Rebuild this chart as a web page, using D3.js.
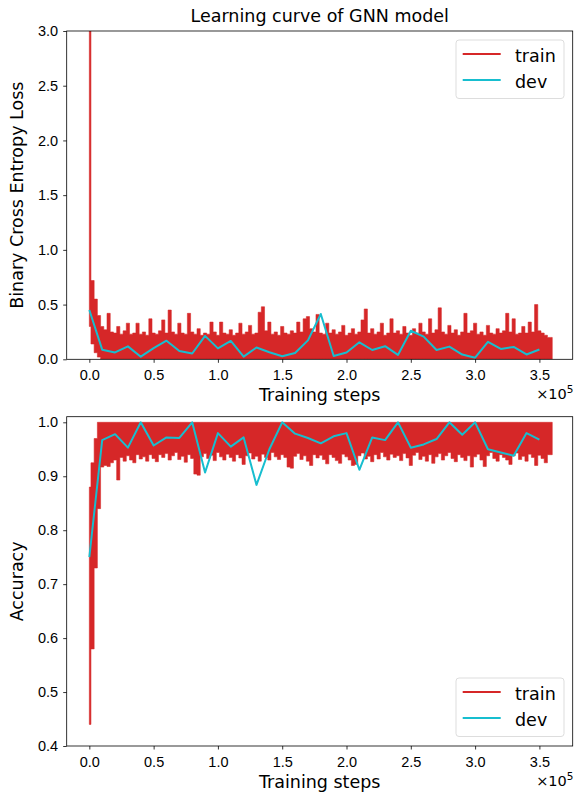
<!DOCTYPE html>
<meta charset="utf-8">
<style>
body { margin: 0; background: #fff; }
svg { background-color: #fff; font-family: "DejaVu Sans", sans-serif; }
.axis path, .axis line { stroke: #000; stroke-width: 0.8; }
.axis text { font-size: 14.5px; fill: #000; }
.label { font-size: 17.5px; fill: #000; }
.legend text { font-size: 17.5px; fill: #000; }
</style>
<svg width="574" height="799"></svg>
<script src="https://d3js.org/d3.v7.min.js"></script>
<script>

// dev set evaluated every 10k steps
var devSteps = [0, 10000, 20000, 30000, 40000, 50000, 60000, 70000, 80000, 90000,
  100000, 110000, 120000, 130000, 140000, 150000, 160000, 170000, 180000, 190000,
  200000, 210000, 220000, 230000, 240000, 250000, 260000, 270000, 280000, 290000,
  300000, 310000, 320000, 330000, 340000, 350000];
var devLoss = [0.45, 0.088, 0.063, 0.118, 0.024, 0.102, 0.17, 0.076, 0.053, 0.214,
  0.10, 0.168, 0.024, 0.108, 0.065, 0.028, 0.058, 0.173, 0.414, 0.03,
  0.062, 0.155, 0.085, 0.12, 0.04, 0.261, 0.207, 0.085, 0.116, 0.043,
  0.015, 0.16, 0.095, 0.113, 0.044, 0.09];
var devAcc = [0.75, 0.967, 0.978, 0.953, 1.0, 0.957, 0.972, 0.971, 1.0, 0.907,
  0.98, 0.955, 0.972, 0.884, 0.95, 1.0, 0.979, 0.971, 0.961, 0.974,
  0.98, 0.912, 0.972, 0.967, 1.0, 0.953, 0.959, 0.969, 1.0, 0.977,
  1.0, 0.95, 0.944, 0.938, 0.98, 0.968];

// train curve, min / max of each 2500-step chunk
var trainChunk = 2500;
var trainLossHigh = [
  3.2, 0.72, 0.55, 0.40, 0.30, 0.27, 0.42, 0.25, 0.24, 0.30, 0.23, 0.26,
  0.33, 0.23, 0.24, 0.33, 0.23, 0.25, 0.22, 0.37, 0.24, 0.23, 0.26, 0.36,
  0.24, 0.45, 0.25, 0.23, 0.33, 0.24, 0.23, 0.42, 0.25, 0.23, 0.28, 0.22,
  0.24, 0.23, 0.34, 0.25, 0.22, 0.34, 0.24, 0.23, 0.27, 0.22, 0.24, 0.33,
  0.23, 0.25, 0.31, 0.23, 0.24, 0.43, 0.48, 0.26, 0.34, 0.23, 0.25, 0.22,
  0.30, 0.24, 0.23, 0.26, 0.24, 0.34, 0.25, 0.37, 0.39, 0.28, 0.25, 0.41,
  0.24, 0.23, 0.33, 0.24, 0.27, 0.23, 0.25, 0.31, 0.22, 0.24, 0.28, 0.23,
  0.25, 0.36, 0.46, 0.24, 0.28, 0.23, 0.25, 0.33, 0.22, 0.24, 0.37, 0.24,
  0.26, 0.23, 0.30, 0.24, 0.22, 0.28, 0.24, 0.33, 0.25, 0.23, 0.37, 0.24,
  0.27, 0.47, 0.25, 0.23, 0.31, 0.24, 0.27, 0.22, 0.25, 0.42, 0.24, 0.26,
  0.33, 0.23, 0.25, 0.22, 0.31, 0.24, 0.23, 0.28, 0.24, 0.26, 0.42, 0.25,
  0.37, 0.23, 0.24, 0.30, 0.24, 0.34, 0.25, 0.50, 0.26, 0.24, 0.22, 0.20];
var trainLossLow = [
  0.30, 0.14, 0.06, 0.02, 0, 0, 0, 0, 0, 0, 0, 0,
  0, 0, 0, 0, 0, 0, 0, 0, 0, 0, 0, 0,
  0, 0, 0, 0, 0, 0, 0, 0, 0, 0, 0, 0,
  0, 0, 0, 0, 0, 0, 0, 0, 0, 0, 0, 0,
  0, 0, 0, 0, 0, 0, 0, 0, 0, 0, 0, 0,
  0, 0, 0, 0, 0, 0, 0, 0, 0, 0, 0, 0,
  0, 0, 0, 0, 0, 0, 0, 0, 0, 0, 0, 0,
  0, 0, 0, 0, 0, 0, 0, 0, 0, 0, 0, 0,
  0, 0, 0, 0, 0, 0, 0, 0, 0, 0, 0, 0,
  0, 0, 0, 0, 0, 0, 0, 0, 0, 0, 0, 0,
  0, 0, 0, 0, 0, 0, 0, 0, 0, 0, 0, 0,
  0, 0, 0, 0, 0, 0, 0, 0, 0, 0, 0, 0];
var trainAccLow = [
  0.44, 0.58, 0.73, 0.84, 0.917, 0.92, 0.918, 0.925, 0.93, 0.893, 0.935, 0.928,
  0.938, 0.93, 0.925, 0.94, 0.932, 0.936, 0.928, 0.94, 0.933, 0.927, 0.94, 0.935,
  0.942, 0.93, 0.938, 0.944, 0.931, 0.937, 0.926, 0.94, 0.933, 0.904, 0.902, 0.936,
  0.942, 0.933, 0.939, 0.929, 0.944, 0.936, 0.93, 0.941, 0.935, 0.928, 0.94, 0.934,
  0.922, 0.938, 0.943, 0.932, 0.937, 0.928, 0.941, 0.935, 0.93, 0.944, 0.936, 0.931,
  0.94, 0.935, 0.917, 0.915, 0.937, 0.942, 0.931, 0.938, 0.928, 0.92, 0.94, 0.934,
  0.939, 0.931, 0.923, 0.94, 0.935, 0.929, 0.924, 0.941, 0.936, 0.93, 0.92, 0.922,
  0.938, 0.943, 0.932, 0.937, 0.927, 0.94, 0.932, 0.944, 0.936, 0.93, 0.941, 0.935,
  0.938, 0.929, 0.942, 0.934, 0.92, 0.939, 0.944, 0.931, 0.937, 0.928, 0.94, 0.924,
  0.936, 0.942, 0.93, 0.938, 0.944, 0.933, 0.927, 0.94, 0.935, 0.929, 0.938, 0.917,
  0.936, 0.941, 0.93, 0.918, 0.938, 0.944, 0.933, 0.928, 0.94, 0.935, 0.93, 0.922,
  0.938, 0.943, 0.931, 0.937, 0.928, 0.941, 0.935, 0.92, 0.939, 0.933, 0.925, 0.94];
var trainAccHigh = [
  0.88, 0.925, 0.97, 1, 1, 1, 1, 1, 1, 1, 1, 1,
  1, 1, 1, 1, 1, 1, 1, 1, 1, 1, 1, 1,
  1, 1, 1, 1, 1, 1, 1, 1, 1, 1, 1, 1,
  1, 1, 1, 1, 1, 1, 1, 1, 1, 1, 1, 1,
  1, 1, 1, 1, 1, 1, 1, 1, 1, 1, 1, 1,
  1, 1, 1, 1, 1, 1, 1, 1, 1, 1, 1, 1,
  1, 1, 1, 1, 1, 1, 1, 1, 1, 1, 1, 1,
  1, 1, 1, 1, 1, 1, 1, 1, 1, 1, 1, 1,
  1, 1, 1, 1, 1, 1, 1, 1, 1, 1, 1, 1,
  1, 1, 1, 1, 1, 1, 1, 1, 1, 1, 1, 1,
  1, 1, 1, 1, 1, 1, 1, 1, 1, 1, 1, 1,
  1, 1, 1, 1, 1, 1, 1, 1, 1, 1, 1, 1];

var stepTicks = [0, 50000, 100000, 150000, 200000, 250000, 300000, 350000];
var lossTicks = [0, 0.5, 1.0, 1.5, 2.0, 2.5, 3.0];
var accTicks = [0.4, 0.5, 0.6, 0.7, 0.8, 0.9, 1.0];

var red = "#d62728", cyan = "#17becf";

var svg = d3.select("svg"),
    left = 66.7, right = 572.7;

var x = d3.scaleLinear()
    .domain([-17600, 375900])
    .range([left, right]);

svg.append("text")
    .attr("class", "label")
    .attr("x", (left + right) / 2)
    .attr("y", 21.5)
    .attr("text-anchor", "middle")
    .text("Learning curve of GNN model");

function panel(o) {
  var y = d3.scaleLinear().domain(o.yDomain).range([o.bottom, o.top]);
  var g = svg.append("g");

  g.append("clipPath").attr("id", o.id)
    .append("rect")
      .attr("x", left).attr("y", o.top)
      .attr("width", right - left).attr("height", o.bottom - o.top);

  var chunks = o.low.map(function(v, i) {
    return {step: i * trainChunk, low: v, high: o.high[i]};
  });
  var last = chunks[chunks.length - 1];
  chunks.push({step: chunks.length * trainChunk, low: last.low, high: last.high});

  var area = d3.area()
      .curve(d3.curveStep)
      .x(function(d) { return x(d.step); })
      .y0(function(d) { return y(d.low); })
      .y1(function(d) { return y(d.high); });

  var plot = g.append("g").attr("clip-path", "url(#" + o.id + ")");
  plot.append("path")
      .datum(chunks)
      .attr("d", area)
      .attr("fill", red)
      .attr("stroke", red)
      .attr("stroke-width", 0.7)
      .attr("stroke-opacity", 0.8);

  var line = d3.line()
      .x(function(d, i) { return x(devSteps[i]); })
      .y(function(d) { return y(d); });

  plot.append("path")
      .datum(o.dev)
      .attr("d", line)
      .attr("fill", "none")
      .attr("stroke", cyan)
      .attr("stroke-width", 2)
      .attr("stroke-linejoin", "round");

  // axes
  g.append("g")
      .attr("class", "axis")
      .attr("transform", "translate(0," + o.bottom + ")")
      .call(d3.axisBottom(x).tickValues(stepTicks).tickSize(3.5).tickPadding(5)
        .tickFormat(function(d) { return d3.format(".1f")(d / 1e5); }))
      .call(function(a) { a.select(".domain").remove(); a.selectAll("text").attr("dy", "0.85em"); });

  g.append("g")
      .attr("class", "axis")
      .attr("transform", "translate(" + left + ",0)")
      .call(d3.axisLeft(y).tickValues(o.ticks).tickSize(3.5).tickPadding(5)
        .tickFormat(d3.format(".1f")))
      .call(function(a) { a.select(".domain").remove(); });

  g.append("rect")
      .attr("x", left).attr("y", o.top)
      .attr("width", right - left).attr("height", o.bottom - o.top)
      .attr("fill", "none")
      .attr("stroke", "#000")
      .attr("stroke-width", 0.8);

  g.append("text")
      .attr("class", "label")
      .attr("x", (left + right) / 2)
      .attr("y", o.bottom + 42)
      .attr("text-anchor", "middle")
      .text("Training steps");

  var off = g.append("text")
      .attr("x", 573.5)
      .attr("y", o.bottom + 40)
      .attr("text-anchor", "end")
      .style("font-size", "14.5px");
  off.append("tspan").text("\u00d710");
  off.append("tspan").attr("dy", -6).style("font-size", "10.5px").text("5");

  g.append("text")
      .attr("class", "label")
      .attr("transform", "translate(23," + ((o.top + o.bottom) / 2) + ")rotate(-90)")
      .attr("text-anchor", "middle")
      .text(o.ylabel);

  // legend
  var lg = g.append("g").attr("class", "legend")
      .attr("transform", "translate(456," + o.legendY + ")");
  lg.append("rect")
      .attr("width", 108).attr("height", 58.5)
      .attr("rx", 3)
      .attr("fill", "#fff").attr("fill-opacity", 0.8)
      .attr("stroke", "#d4d4d4").attr("stroke-width", 0.8);
  [["train", red], ["dev", cyan]].forEach(function(e, i) {
    lg.append("line")
        .attr("x1", 6.7).attr("x2", 44.7)
        .attr("y1", 14 + i * 26).attr("y2", 14 + i * 26)
        .attr("stroke", e[1]).attr("stroke-width", 2);
    lg.append("text")
        .attr("x", 59).attr("y", 21.5 + i * 26)
        .text(e[0]);
  });
}

panel({id: "c1", top: 31, bottom: 359.3, yDomain: [0, 3], ticks: lossTicks,
  low: trainLossLow, high: trainLossHigh, dev: devLoss,
  ylabel: "Binary Cross Entropy Loss", legendY: 40});

panel({id: "c2", top: 416.7, bottom: 746, yDomain: [0.4, 1.0104], ticks: accTicks,
  low: trainAccLow, high: trainAccHigh, dev: devAcc,
  ylabel: "Accuracy", legendY: 678});

</script>
